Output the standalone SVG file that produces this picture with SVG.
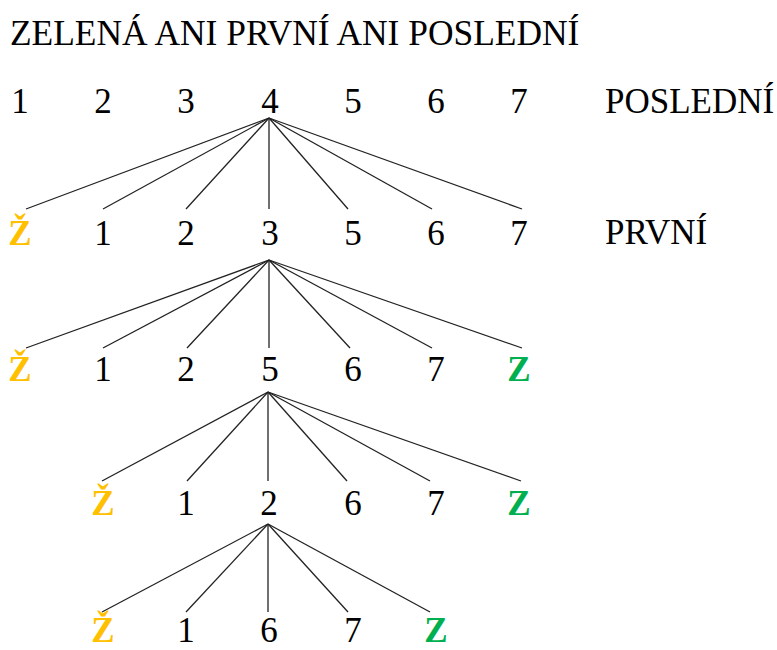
<svg xmlns="http://www.w3.org/2000/svg" width="777" height="650" viewBox="0 0 777 650" font-family="'Liberation Serif', 'Times New Roman', Times, 'DejaVu Serif', serif">
  <style>
    text { font-family: "Liberation Serif", "Times New Roman", Times, "DejaVu Serif", serif; font-size: 35px; fill: #000; }
    .n { text-anchor: middle; }
    .zc { font-weight: bold; fill: #FFC000; }
    .zg { font-weight: bold; fill: #00B050; }
    .edges line { stroke: #222; stroke-width: 1.3; }
  </style>
  <rect width="777" height="650" fill="#fff"/>

  <text id="title" x="10" y="45" style="font-size:35.4px">ZELENÁ ANI PRVNÍ ANI POSLEDNÍ</text>
  <text id="label-posledni" x="605" y="113">POSLEDNÍ</text>
  <text id="label-prvni" x="605" y="244">PRVNÍ</text>

  <!-- connectors -->
  <g class="edges">
    <!-- from 4 (level 1) -->
    <line x1="269" y1="118" x2="26" y2="209"/>
    <line x1="269" y1="118" x2="103" y2="209"/>
    <line x1="269" y1="118" x2="186" y2="209"/>
    <line x1="269" y1="118" x2="269" y2="209"/>
    <line x1="269" y1="118" x2="348" y2="209"/>
    <line x1="269" y1="118" x2="432" y2="209"/>
    <line x1="269" y1="118" x2="522" y2="209"/>
    <!-- from 3 (level 2) -->
    <line x1="269" y1="260" x2="26" y2="348"/>
    <line x1="269" y1="260" x2="103" y2="348"/>
    <line x1="269" y1="260" x2="187" y2="348"/>
    <line x1="269" y1="260" x2="269" y2="348"/>
    <line x1="269" y1="260" x2="350" y2="348"/>
    <line x1="269" y1="260" x2="432" y2="348"/>
    <line x1="269" y1="260" x2="522" y2="348"/>
    <!-- from 5 (level 3) -->
    <line x1="268" y1="392" x2="102" y2="481"/>
    <line x1="268" y1="392" x2="187" y2="481"/>
    <line x1="268" y1="392" x2="268" y2="481"/>
    <line x1="268" y1="392" x2="347" y2="481"/>
    <line x1="268" y1="392" x2="430" y2="481"/>
    <line x1="268" y1="392" x2="521" y2="481"/>
    <!-- from 2 (level 4) -->
    <line x1="268" y1="524" x2="102" y2="612"/>
    <line x1="268" y1="524" x2="186" y2="612"/>
    <line x1="268" y1="524" x2="268" y2="612"/>
    <line x1="268" y1="524" x2="348" y2="612"/>
    <line x1="268" y1="524" x2="430" y2="612"/>
  </g>

  <!-- level 1 -->
  <g id="r1-1"><text class="n" x="20" y="113">1</text></g>
  <g id="r1-2"><text class="n" x="103" y="113">2</text></g>
  <g id="r1-3"><text class="n" x="186" y="113">3</text></g>
  <g id="r1-4"><text class="n" x="270" y="113">4</text></g>
  <g id="r1-5"><text class="n" x="353" y="113">5</text></g>
  <g id="r1-6"><text class="n" x="436" y="113">6</text></g>
  <g id="r1-7"><text class="n" x="519" y="113">7</text></g>

  <!-- level 2 -->
  <g id="r2-z"><text class="n zc" x="20" y="245">Ž</text></g>
  <g id="r2-1"><text class="n" x="103" y="245">1</text></g>
  <g id="r2-2"><text class="n" x="186" y="245">2</text></g>
  <g id="r2-3"><text class="n" x="270" y="245">3</text></g>
  <g id="r2-5"><text class="n" x="353" y="245">5</text></g>
  <g id="r2-6"><text class="n" x="436" y="245">6</text></g>
  <g id="r2-7"><text class="n" x="519" y="245">7</text></g>

  <!-- level 3 -->
  <g id="r3-z"><text class="n zc" x="20" y="381">Ž</text></g>
  <g id="r3-1"><text class="n" x="103" y="381">1</text></g>
  <g id="r3-2"><text class="n" x="186" y="381">2</text></g>
  <g id="r3-5"><text class="n" x="270" y="381">5</text></g>
  <g id="r3-6"><text class="n" x="353" y="381">6</text></g>
  <g id="r3-7"><text class="n" x="436" y="381">7</text></g>
  <g id="r3-zg"><text class="n zg" x="519" y="381">Z</text></g>

  <!-- level 4 -->
  <g id="r4-z"><text class="n zc" x="103" y="515">Ž</text></g>
  <g id="r4-1"><text class="n" x="186" y="515">1</text></g>
  <g id="r4-2"><text class="n" x="269" y="515">2</text></g>
  <g id="r4-6"><text class="n" x="353" y="515">6</text></g>
  <g id="r4-7"><text class="n" x="436" y="515">7</text></g>
  <g id="r4-zg"><text class="n zg" x="519" y="515">Z</text></g>

  <!-- level 5 -->
  <g id="r5-z"><text class="n zc" x="103" y="642">Ž</text></g>
  <g id="r5-1"><text class="n" x="186" y="642">1</text></g>
  <g id="r5-6"><text class="n" x="269" y="642">6</text></g>
  <g id="r5-7"><text class="n" x="353" y="642">7</text></g>
  <g id="r5-zg"><text class="n zg" x="436" y="642">Z</text></g>
</svg>
